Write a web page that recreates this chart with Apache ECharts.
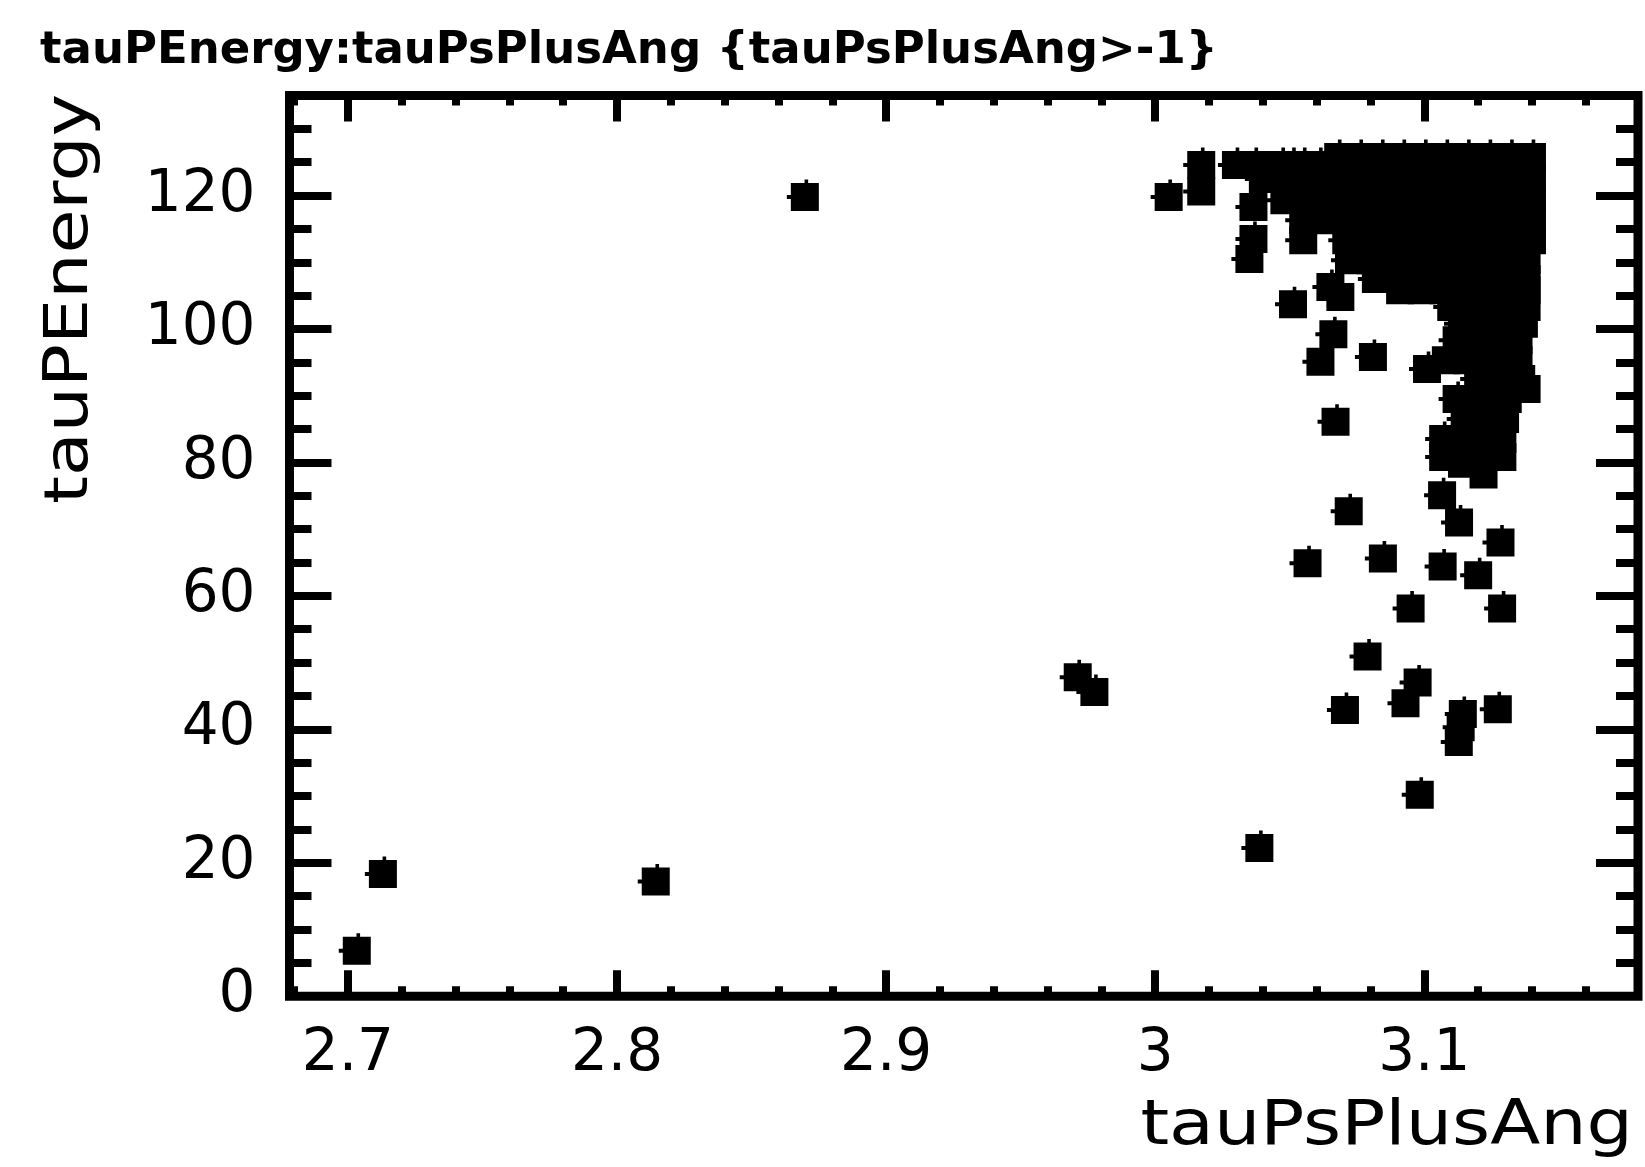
<!DOCTYPE html>
<html>
<head>
<meta charset="utf-8">
<script src="https://cdn.jsdelivr.net/npm/echarts@6/dist/echarts.min.js"></script>
<style>
html,body{margin:0;padding:0;background:#fff;}
#chart{width:1645px;height:1167px;}
</style>
</head>
<body>
<div id="chart"></div>
<script>
// ---------------- text ----------------
const chartTitle = 'tauPEnergy:tauPsPlusAng {tauPsPlusAng>-1}';
const xAxisTitle = 'tauPsPlusAng';
const yAxisTitle = 'tauPEnergy';

// ---------------- axes ----------------
const xRange = [2.6783, 3.1794];
const yRange = [0, 135];
const xTickLabels = [2.7, 2.8, 2.9, 3, 3.1];
const yTickLabels = [0, 20, 40, 60, 80, 100, 120];

// ---------------- data: [tauPsPlusAng, tauPEnergy] ----------------
const isolatedPoints = [
  [2.7033, 6.8], [2.7130, 18.3], [2.8144, 17.2], [2.8698, 119.8],
  [2.9712, 47.8], [2.9774, 45.6], [3.0387, 22.2], [3.0983, 30.2]
];

const lowerRightPoints = [
  [3.0949, 58.1], [3.1289, 58.1], [3.0789, 50.9], [3.0975, 47.0], [3.0930, 43.9],
  [3.0705, 42.9], [3.1273, 43.0], [3.1143, 42.3], [3.1135, 40.3], [3.1128, 38.1],
  [3.0566, 64.9], [3.0846, 65.6], [3.1068, 64.4], [3.1200, 63.1],
  [3.1283, 68.0], [3.0719, 72.7], [3.1129, 71.0], [3.1066, 75.1], [3.0670, 86.1]
];

const upperLeftPoints = [
  [3.0050, 119.8], [3.0171, 124.6], [3.0171, 120.6], [3.0365, 118.3],
  [3.0365, 113.5], [3.0350, 110.5], [3.0512, 103.7], [3.0651, 106.3],
  [3.0688, 104.8], [3.0662, 99.2], [3.0614, 95.1], [3.0809, 95.8], [3.1010, 94.0]
];

const denseBlockPoints = [
  [3.068,125.8],[3.076,125.8],[3.084,125.8],[3.092,125.8],[3.100,125.8],[3.108,125.8],[3.116,125.8],[3.124,125.8],[3.132,125.8],[3.140,125.8],
  [3.030,124.6],[3.037,124.6],[3.047,124.6],[3.051,124.6],[3.055,124.6],[3.061,124.6],
  [3.040,122.5],[3.048,122.5],[3.056,122.5],[3.064,122.5],[3.072,122.5],[3.080,122.5],[3.088,122.5],[3.096,122.5],[3.104,122.5],[3.112,122.5],[3.120,122.5],[3.128,122.5],[3.136,122.5],[3.140,122.5],
  [3.048,119.3],[3.056,119.3],[3.064,119.3],[3.072,119.3],[3.080,119.3],[3.088,119.3],[3.096,119.3],[3.104,119.3],[3.112,119.3],[3.120,119.3],[3.128,119.3],[3.136,119.3],[3.140,119.3],
  [3.055,116.3],[3.063,116.3],[3.071,116.3],[3.079,116.3],[3.087,116.3],[3.095,116.3],[3.103,116.3],[3.111,116.3],[3.119,116.3],[3.127,116.3],[3.135,116.3],[3.140,116.3],
  [3.055,113.3],[3.071,113.3],[3.079,113.3],[3.087,113.3],[3.095,113.3],[3.103,113.3],[3.111,113.3],[3.119,113.3],[3.127,113.3],[3.135,113.3],[3.140,113.3],
  [3.072,110.3],[3.080,110.3],[3.088,110.3],[3.096,110.3],[3.104,110.3],[3.112,110.3],[3.120,110.3],[3.128,110.3],[3.138,110.3],
  [3.082,107.5],[3.090,107.5],[3.098,107.5],[3.106,107.5],[3.114,107.5],[3.122,107.5],[3.130,107.5],[3.138,107.5],
  [3.091,105.8],[3.099,105.8],[3.107,105.8],[3.115,105.8],[3.123,105.8],[3.131,105.8],[3.138,105.8],
  [3.110,103.3],[3.118,103.3],[3.126,103.3],[3.134,103.3],[3.138,103.3],
  [3.114,100.8],[3.122,100.8],[3.130,100.8],[3.137,100.8]
];

const lowerClusterPoints = [
  [3.112,98.3],[3.120,98.3],[3.128,98.3],[3.135,98.3],
  [3.108,95.3],[3.116,95.3],[3.124,95.3],[3.132,95.3],[3.135,95.3],
  [3.120,92.5],[3.128,92.5],[3.136,92.5],[3.138,91.0],
  [3.112,89.5],[3.120,89.5],[3.128,89.5],[3.131,89.5],
  [3.115,86.5],[3.122,86.5],[3.130,86.5],
  [3.107,83.5],[3.114,83.5],[3.122,83.5],[3.129,83.5],
  [3.107,80.8],[3.115,80.8],[3.122,80.8],[3.129,80.8],
  [3.114,79.8],[3.122,78.2]
];

const allPoints = [].concat(isolatedPoints, lowerRightPoints, upperLeftPoints, denseBlockPoints, lowerClusterPoints);

// ROOT-like marker: square with small bumps on top and left
const markerPath = 'path://M4,3.5 L17.7,3.5 L17.7,0 L21.3,0 L21.3,3.5 L32,3.5 L32,31.5 L4,31.5 L4,19.5 L0,19.5 L0,15.5 L4,15.5 Z';

const FONT = '"DejaVu Sans", "Liberation Sans", sans-serif';

function near(v, list) {
  for (const t of list) { if (Math.abs(v - t) < 1e-6) return t; }
  return null;
}

function xAxisDef(pos, labels) {
  return {
    type: 'value', gridIndex: 0, position: pos,
    min: xRange[0], max: xRange[1],
    splitNumber: 5, minInterval: 0.1, maxInterval: 0.1,
    axisLine: { show: false, onZero: false },
    splitLine: { show: false },
    axisTick: { show: true, inside: true, length: 26, lineStyle: { color: '#000', width: 8 } },
    minorTick: { show: true, splitNumber: 5, length: 10, lineStyle: { color: '#000', width: 8 } },
    minorSplitLine: { show: false },
    axisLabel: {
      show: labels, margin: 30, color: '#000', fontFamily: FONT, fontSize: 58,
      formatter: function (v) { const t = near(v, xTickLabels); return t === null ? '' : String(t); }
    }
  };
}
function yAxisDef(pos, labels) {
  return {
    type: 'value', gridIndex: 0, position: pos,
    min: yRange[0], max: yRange[1],
    splitNumber: 7, minInterval: 20, maxInterval: 20,
    axisLine: { show: false, onZero: false },
    splitLine: { show: false },
    axisTick: { show: true, inside: true, length: 42, lineStyle: { color: '#000', width: 8 } },
    minorTick: { show: true, splitNumber: 4, length: 22, lineStyle: { color: '#000', width: 8 } },
    minorSplitLine: { show: false },
    axisLabel: {
      show: labels, margin: 34, color: '#000', fontFamily: FONT, fontSize: 58,
      formatter: function (v) { const t = near(v, yTickLabels); return t === null ? '' : String(t); }
    }
  };
}

const chart = echarts.init(document.getElementById('chart'), null, { renderer: 'canvas' });
chart.setOption({
  animation: false,
  backgroundColor: '#fff',
  grid: {
    left: 289.5, right: 7, top: 95.5, bottom: 170.8,
    show: true, borderColor: '#000', borderWidth: 9, backgroundColor: 'transparent',
    containLabel: false, outerBoundsMode: 'none'
  },
  xAxis: [ xAxisDef('bottom', true), xAxisDef('top', false) ],
  yAxis: [ yAxisDef('left', true), yAxisDef('right', false) ],
  graphic: [
    { type: 'text', x: 40, y: 51, silent: true,
      style: { text: chartTitle, font: 'bold 45px ' + FONT, fill: '#000',
               align: 'left', textAlign: 'left', verticalAlign: 'middle', textVerticalAlign: 'middle' } },
    { type: 'text', x: 1633, y: 1128, scaleX: 1.18, silent: true,
      style: { text: xAxisTitle, font: '62px ' + FONT, fill: '#000',
               align: 'right', textAlign: 'right', verticalAlign: 'middle', textVerticalAlign: 'middle' } },
    { type: 'text', x: 71, y: 94, rotation: Math.PI / 2, scaleX: 1.19, silent: true,
      style: { text: yAxisTitle, font: '60px ' + FONT, fill: '#000',
               align: 'right', textAlign: 'right', verticalAlign: 'middle', textVerticalAlign: 'middle' } }
  ],
  series: [{
    type: 'scatter',
    xAxisIndex: 0, yAxisIndex: 0,
    data: allPoints,
    symbol: markerPath,
    symbolSize: [32, 31.5],
    symbolOffset: [-2, -1.75],
    itemStyle: { color: '#000', opacity: 1 },
    emphasis: { disabled: true },
    silent: true
  }]
});
</script>
</body>
</html>
